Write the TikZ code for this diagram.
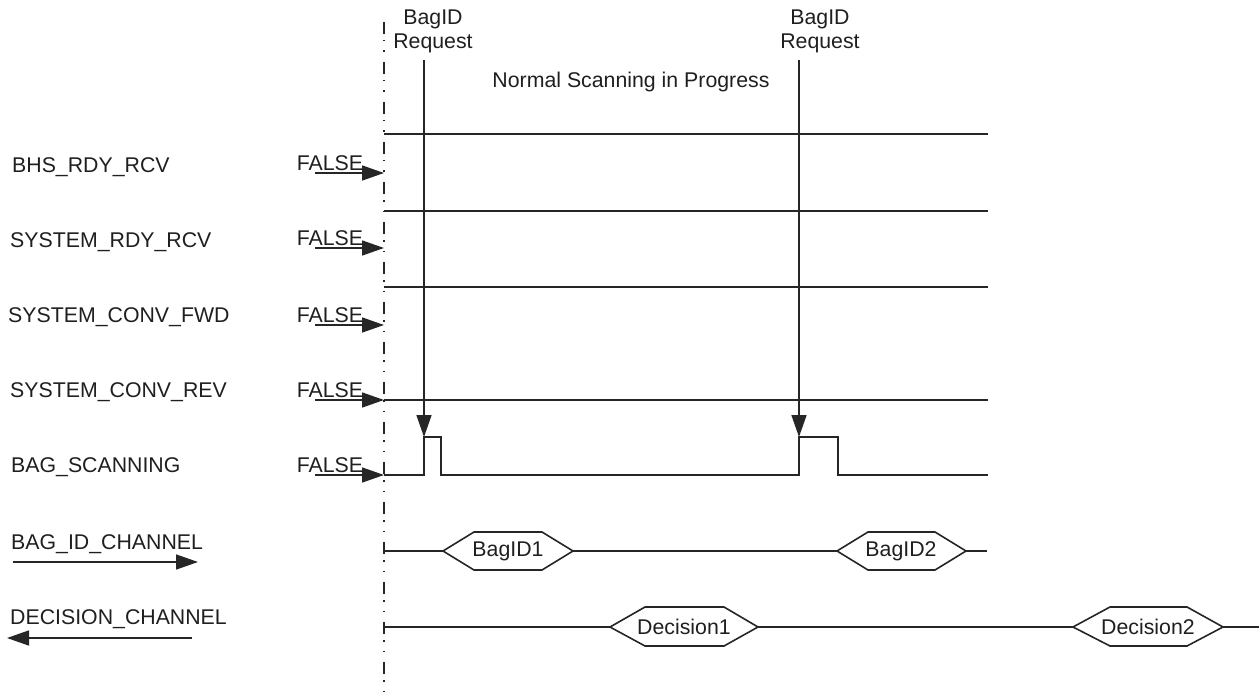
\documentclass[tikz,border=0pt]{standalone}
\usepackage{fontspec}
\setmainfont{Liberation Sans}
\usetikzlibrary{arrows.meta}
\begin{document}
\begin{tikzpicture}[x=1pt,y=-1pt,
  wire/.style={line width=1.6pt, draw=black!85, line join=miter},
  txt/.style={inner sep=0pt, font=\fontsize{21.3}{24}\selectfont, text=black!88},
  sig/.style={txt, anchor=base west},
  fls/.style={txt, anchor=base},
  tipR/.style={wire, -{Triangle[length=22pt,width=15pt]}},
  axisline/.style={line width=1.6pt, draw=black!85, dash pattern=on 12pt off 6pt on 1.5pt off 9pt on 1.5pt off 10pt}
]
\useasboundingbox (0,0) rectangle (1259,698);

% vertical reference line
\coordinate (axtop) at (384,22);
\coordinate (axbot) at (384,698);
\draw[axisline] (axtop) -- (axbot);

% top labels
\node[txt, align=center, anchor=base] (req1) at (433,49) {BagID\\Request};
\node[txt, align=center, anchor=base] (req2) at (820,49) {BagID\\Request};
\node[txt, anchor=base] (normal) at (631,88) {Normal Scanning in Progress};

% request arrows
\coordinate (r1top) at (424,60);
\coordinate (r1bot) at (424,437);
\coordinate (r2top) at (799,60);
\coordinate (r2bot) at (799,437);
\draw[wire, -{Triangle[length=22pt,width=15pt]}] (r1top) -- (r1bot);
\draw[wire, -{Triangle[length=22pt,width=15pt]}] (r2top) -- (r2bot);

% signal names
\node[sig] (s1) at (12,172) {BHS\_RDY\_RCV};
\node[sig] (s2) at (10,247) {SYSTEM\_RDY\_RCV};
\node[sig] (s3) at (8,322) {SYSTEM\_CONV\_FWD};
\node[sig] (s4) at (10,397) {SYSTEM\_CONV\_REV};
\node[sig] (s5) at (11,472) {BAG\_SCANNING};
\node[sig] (s6) at (11,549) {BAG\_ID\_CHANNEL};
\node[sig] (s7) at (10,624) {DECISION\_CHANNEL};

% channel direction arrows
\coordinate (c6a) at (13,562);
\coordinate (c6b) at (198,562);
\coordinate (c7a) at (192,638);
\coordinate (c7b) at (7,638);
\draw[tipR] (c6a) -- (c6b);
\draw[tipR] (c7a) -- (c7b);

% FALSE initial values with arrows
\foreach \n/\y in {1/173,2/248,3/325,4/400,5/475}{
  \node[fls] (f\n) at (330,\y-2.5) {FALSE};
  \coordinate (fa\n) at (315,\y);
  \coordinate (fb\n) at (384,\y);
  \draw[tipR] (fa\n) -- (fb\n);
}

% waveforms
\coordinate (w1a) at (384,134); \coordinate (w1b) at (988,134);
\coordinate (w2a) at (384,211); \coordinate (w2b) at (988,211);
\coordinate (w3a) at (384,287); \coordinate (w3b) at (988,287);
\coordinate (w4a) at (384,400); \coordinate (w4b) at (988,400);
\draw[wire] (w1a) -- (w1b);
\draw[wire] (w2a) -- (w2b);
\draw[wire] (w3a) -- (w3b);
\draw[wire] (w4a) -- (w4b);

\coordinate (w5a) at (384,475); \coordinate (w5b) at (988,475);
\draw[wire] (w5a) -- (424,475) -- (424,437) -- (441,437) -- (441,475)
  -- (799,475) -- (799,437) -- (838,437) -- (838,475) -- (w5b);

% BAG_ID_CHANNEL bus
\coordinate (w6a) at (384,551); \coordinate (w6b) at (987,551);
\draw[wire] (w6a) -- (443,551);
\draw[wire] (443,551) -- (474,532) -- (542,532) -- (573,551) -- (542,570) -- (474,570) -- cycle;
\node[txt] (bid1) at (508,551) {BagID1};
\draw[wire] (573,551) -- (837,551);
\draw[wire] (837,551) -- (868,532) -- (935,532) -- (966,551) -- (935,570) -- (868,570) -- cycle;
\node[txt] (bid2) at (901,551) {BagID2};
\draw[wire] (966,551) -- (w6b);

% DECISION_CHANNEL bus
\coordinate (w7a) at (384,627); \coordinate (w7b) at (1259,627);
\draw[wire] (w7a) -- (610,627);
\draw[wire] (610,627) -- (645,607) -- (724,607) -- (758,627) -- (724,646) -- (645,646) -- cycle;
\node[txt] (dec1) at (684,627) {Decision1};
\draw[wire] (758,627) -- (1073,627);
\draw[wire] (1073,627) -- (1110,607) -- (1187,607) -- (1223,627) -- (1187,646) -- (1110,646) -- cycle;
\node[txt] (dec2) at (1148,627) {Decision2};
\draw[wire] (1223,627) -- (w7b);
\end{tikzpicture}
\end{document}
